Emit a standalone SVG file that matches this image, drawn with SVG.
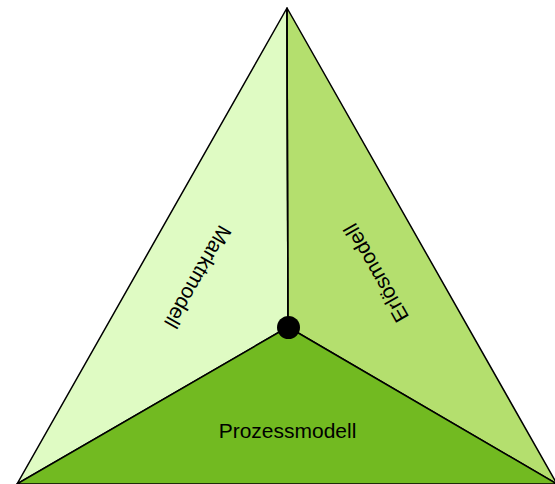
<svg xmlns="http://www.w3.org/2000/svg" width="555" height="484" viewBox="0 0 555 484">
  <style>
    .face { stroke: #000; stroke-width: 1.5; stroke-linejoin: round; }
    .lbl { font-family: "Liberation Sans", Arial, sans-serif; font-size: 21px; fill: #000; text-anchor: middle; }
  </style>
  <rect width="555" height="484" fill="#ffffff"/>
  <!-- three faces of the pyramid, meeting at the centre point -->
  <g id="markt">
    <polygon class="face" points="287,8 288,327 17,484" fill="#DFFBC3"/>
    <text class="lbl" transform="translate(198,277) rotate(119.6)" dy="0.35em">Marktmodell</text>
  </g>
  <g id="erloes">
    <polygon class="face" points="287,8 557,484 288,327" fill="#B4DF6E"/>
    <text class="lbl" transform="translate(376,273) rotate(-119.6)" dy="0.35em">Erlösmodell</text>
  </g>
  <g id="prozess">
    <polygon class="face" points="288,327 557,484 17,484" fill="#72BA21"/>
    <text class="lbl" x="287.5" y="438">Prozessmodell</text>
  </g>
  <g id="connectors">
    <line x1="287" y1="8" x2="288" y2="327" stroke="#000" stroke-width="1.5"/>
    <circle cx="288.5" cy="327.5" r="11.5" fill="#000"/>
  </g>
</svg>
